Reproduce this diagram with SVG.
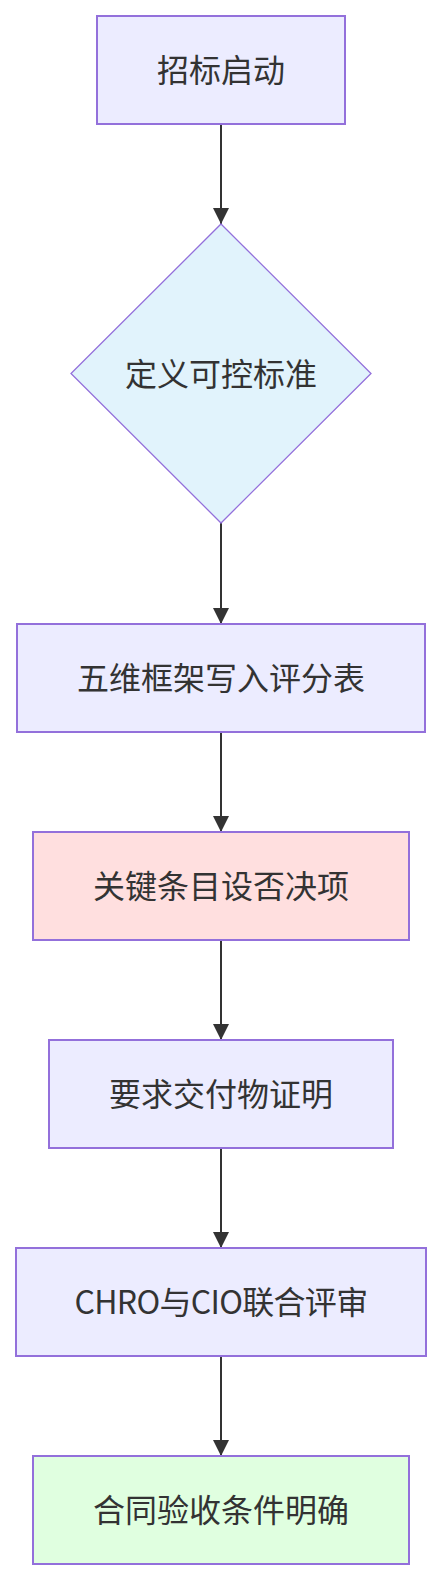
<svg xmlns="http://www.w3.org/2000/svg" width="441" height="1580" viewBox="0 0 441 1580">
<defs>
<style>
.node rect{fill:#ECECFF;stroke:#9370DB;stroke-width:2}
.node polygon{fill:#E1F3FC;stroke:#9370DB;stroke-width:1.3}
.node text{font-family:"Noto Sans CJK SC","Noto Sans",sans-serif;font-size:32px;fill:#333333;text-anchor:middle;dominant-baseline:central}
.edge{stroke:#333333;stroke-width:2;fill:none;marker-end:url(#arrow)}
</style>
<marker id="arrow" viewBox="0 0 10 10" refX="10" refY="5" markerUnits="userSpaceOnUse" markerWidth="16" markerHeight="16" orient="auto">
<path d="M0,0 L10,5 L0,10 z" fill="#333333"/>
</marker>
</defs>
<rect width="441" height="1580" fill="#ffffff"/>
<g id="connectors">
<line class="edge" x1="221" y1="124" x2="221" y2="224"/>
<line class="edge" x1="221" y1="523" x2="221" y2="624"/>
<line class="edge" x1="221" y1="732" x2="221" y2="832"/>
<line class="edge" x1="221" y1="940" x2="221" y2="1040"/>
<line class="edge" x1="221" y1="1148" x2="221" y2="1248"/>
<line class="edge" x1="221" y1="1356" x2="221" y2="1456"/>
</g>
<g id="n1" class="node">
<rect x="97" y="16" width="248" height="108"/>
<text x="221" y="68">招标启动</text>
</g>
<g id="n2" class="node">
<polygon points="221,224 371,373.5 221,523 71,373.5"/>
<text x="221" y="371.5">定义可控标准</text>
</g>
<g id="n3" class="node">
<rect x="17" y="624" width="408" height="108"/>
<text x="221" y="676">五维框架写入评分表</text>
</g>
<g id="n4" class="node">
<rect x="33" y="832" width="376" height="108" style="fill:#FFDFDF"/>
<text x="221" y="884">关键条目设否决项</text>
</g>
<g id="n5" class="node">
<rect x="49" y="1040" width="344" height="108"/>
<text x="221" y="1092">要求交付物证明</text>
</g>
<g id="n6" class="node">
<rect x="16" y="1248" width="410" height="108"/>
<text x="221" y="1300" style="letter-spacing:-0.7px">CHRO与CIO联合评审</text>
</g>
<g id="n7" class="node">
<rect x="33" y="1456" width="376" height="108" style="fill:#E0FFE0"/>
<text x="221" y="1508">合同验收条件明确</text>
</g>
</svg>
